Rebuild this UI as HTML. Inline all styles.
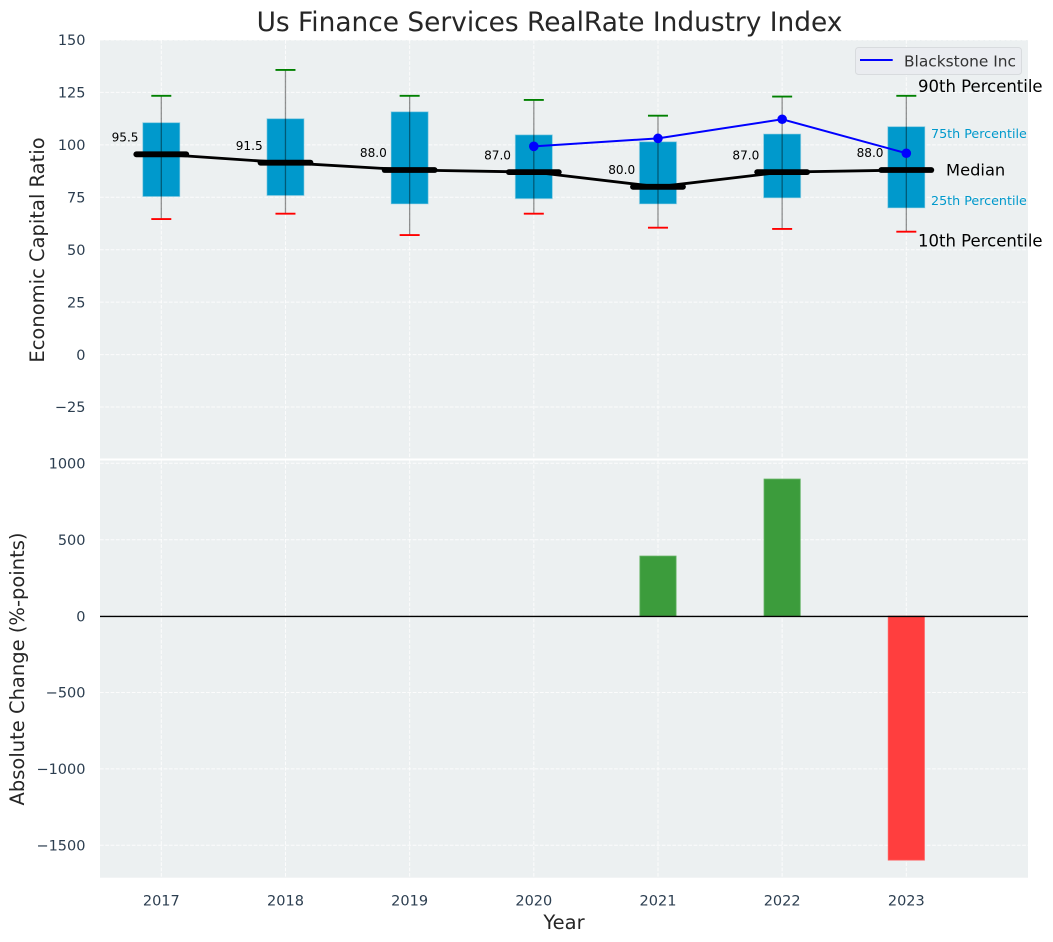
<!DOCTYPE html>
<html lang="en">
<head>
<meta charset="utf-8">
<title>Us Finance Services RealRate Industry Index</title>
<style>
html,body{margin:0;padding:0;background:#fff;}
svg{display:block;}
text{font-family:"DejaVu Sans","Liberation Sans",sans-serif;}
</style>
</head>
<body>
<svg id="chart" xmlns="http://www.w3.org/2000/svg" width="1053" height="942" viewBox="0 0 1053 942"></svg>
<script>
const years = [2017, 2018, 2019, 2020, 2021, 2022, 2023];
const p90 = [123.4, 135.7, 123.4, 121.4, 113.9, 123, 123.4];
const p75 = [110.6, 112.5, 115.8, 104.8, 101.5, 105.2, 108.7];
const medians = [95.5, 91.5, 88, 87, 80, 87, 88];
const p25 = [75.3, 75.8, 71.8, 74.3, 71.8, 74.7, 69.9];
const p10 = [64.6, 67.2, 57, 67.2, 60.5, 59.9, 58.6];
const companyYears = [2020, 2021, 2022, 2023];
const companyValues = [99.3, 103.1, 112.2, 96];
const changeYears = [2021, 2022, 2023];
const changeValues = [393, 897, -1597];
const topTicks = [150, 125, 100, 75, 50, 25, 0, -25];
const bottomTicks = [1000, 500, 0, -500, -1000, -1500];

const NS = 'http://www.w3.org/2000/svg';
const svg = document.getElementById('chart');
function mk(tag, attrs, parent) {
  const el = document.createElementNS(NS, tag);
  for (const k in attrs) el.setAttribute(k, attrs[k]);
  (parent || svg).appendChild(el);
  return el;
}
function txt(str, attrs, parent) {
  const el = mk('text', attrs, parent);
  el.textContent = str;
  return el;
}
const L = 100, R = 1028, T = 40, MID = 459.5, B = 877.7;
const X = y => 161.3 + (y - 2017) * 124.17;
const Y1 = v => 354.6 - v * 2.0975;
const Y2 = v => 616.1 - v * 0.1528;
const fmtTick = v => String(v).replace('-', '\u2212');

/* panels */
const topPanel = mk('rect', {x: L, y: T, width: R - L, height: MID - T, fill: '#ecf0f1'});


const bottomPanel = mk('rect', {x: L, y: MID, width: R - L, height: B - MID, fill: '#ecf0f1'});



/* grid */
const gridStyle = {stroke: '#ffffff', 'stroke-width': 1, 'stroke-dasharray': '3.7 1.6', opacity: 0.85};
years.forEach(yr => {
  const a = mk('line', Object.assign({x1: X(yr), x2: X(yr), y1: T, y2: MID}, gridStyle));
  
  
  const b = mk('line', Object.assign({x1: X(yr), x2: X(yr), y1: MID, y2: B}, gridStyle));
  
  
});
topTicks.forEach(v => {
  const g = mk('line', Object.assign({x1: L, x2: R, y1: Y1(v), y2: Y1(v)}, gridStyle));
  
  
  const t = txt(fmtTick(v), {x: 85.5, y: Y1(v) + 5.2, 'text-anchor': 'end', 'font-size': 14.5, fill: '#2c3e50'});
  
  
});
bottomTicks.forEach(v => {
  const g = mk('line', Object.assign({x1: L, x2: R, y1: Y2(v), y2: Y2(v)}, gridStyle));
  
  
  const t = txt(fmtTick(v), {x: 85.5, y: Y2(v) + 5.2, 'text-anchor': 'end', 'font-size': 14.5, fill: '#2c3e50'});
  
  
});
const separator = mk('line', {x1: L, x2: R, y1: MID, y2: MID, stroke: '#ffffff', 'stroke-width': 2});



/* boxes */
const halfBar = 0.15 * 124.17;
years.forEach((yr, i) => {
  const x = X(yr);
  const box = mk('rect', {x: x - halfBar, y: Y1(p75[i]), width: halfBar * 2, height: Y1(p25[i]) - Y1(p75[i]), fill: '#0099cc', stroke: '#add8e6', 'stroke-opacity': 0.6, 'stroke-width': 1});
  
  
  const whisker = mk('line', {x1: x, x2: x, y1: Y1(p90[i]), y2: Y1(p10[i]), stroke: '#000000', 'stroke-opacity': 0.42, 'stroke-width': 1.3});
  
  
  const capHigh = mk('line', {x1: x - 10, x2: x + 10, y1: Y1(p90[i]), y2: Y1(p90[i]), stroke: '#008000', 'stroke-width': 1.9});
  
  
  const capLow = mk('line', {x1: x - 10, x2: x + 10, y1: Y1(p10[i]), y2: Y1(p10[i]), stroke: '#ff0000', 'stroke-width': 1.9});
  
  
});

/* median line */
const medianLine = mk('polyline', {points: years.map((yr, i) => X(yr) + ',' + Y1(medians[i])).join(' '), fill: 'none', stroke: '#000000', 'stroke-width': 2.8});


years.forEach((yr, i) => {
  const x = X(yr), y = Y1(medians[i]);
  const m = mk('line', {x1: x - 25, x2: x + 25, y1: y, y2: y, stroke: '#000000', 'stroke-width': 5.8, 'stroke-linecap': 'round'});
  
  
  const t = txt(medians[i].toFixed(1), {x: x - 22.8, y: y - 12.8, 'text-anchor': 'end', 'font-size': 12.1, fill: '#000000'});
  
  
});

/* company series */
const companyLine = mk('polyline', {points: companyYears.map((yr, i) => X(yr) + ',' + Y1(companyValues[i])).join(' '), fill: 'none', stroke: '#0000ff', 'stroke-width': 2});


companyYears.forEach((yr, i) => {
  const c = mk('circle', {cx: X(yr), cy: Y1(companyValues[i]), r: 4.8, fill: '#0000ff'});
  
  
});

/* percentile annotations on final year */
const last = years.length - 1;
const lastX = X(years[last]);
const a90 = txt('90th Percentile', {x: lastX + 11.7, y: Y1(p90[last]) - 4, 'font-size': 16.5, fill: '#000000'});


const a75 = txt('75th Percentile', {x: lastX + 24.7, y: Y1(p75[last]) + 11.5, 'font-size': 12.7, fill: '#0099cc'});


const aMed = txt('Median', {x: lastX + 39.7, y: Y1(medians[last]) + 5.5, 'font-size': 16.3, fill: '#000000'});


const a25 = txt('25th Percentile', {x: lastX + 24.7, y: Y1(p25[last]) - 3, 'font-size': 12.7, fill: '#0099cc'});


const a10 = txt('10th Percentile', {x: lastX + 11.7, y: Y1(p10[last]) + 15, 'font-size': 16.5, fill: '#000000'});



/* change bars */
changeYears.forEach((yr, i) => {
  const v = changeValues[i];
  const top = Math.min(Y2(v), Y2(0));
  const bar = mk('rect', {x: X(yr) - halfBar + 0.5, y: top, width: halfBar * 2 - 1, height: Math.abs(Y2(v) - Y2(0)), fill: v >= 0 ? '#3c9c3c' : '#ff3e3e', stroke: v >= 0 ? '#62b262' : '#ff6060', 'stroke-width': 0.8});
  
  
});
const zeroLine = mk('line', {x1: L, x2: R, y1: Y2(0) + 0.3, y2: Y2(0) + 0.3, stroke: '#000000', 'stroke-width': 1.4});



/* x ticks */
years.forEach(yr => {
  const t = txt(String(yr), {x: X(yr), y: 905.3, 'text-anchor': 'middle', 'font-size': 14.5, fill: '#2c3e50'});
  
  
});

/* titles */
const title = txt('Us Finance Services RealRate Industry Index', {x: 549.5, y: 31, 'text-anchor': 'middle', 'font-size': 26.4, fill: '#262626'});


const xTitle = txt('Year', {x: 564, y: 929, 'text-anchor': 'middle', 'font-size': 19.5, fill: '#262626'});


const yTop = txt('Economic Capital Ratio', {x: 0, y: 0, transform: 'translate(44,250) rotate(-90)', 'text-anchor': 'middle', 'font-size': 19.5, fill: '#262626'});


const yBottom = txt('Absolute Change (%-points)', {x: 0, y: 0, transform: 'translate(24,669) rotate(-90)', 'text-anchor': 'middle', 'font-size': 19.5, fill: '#262626'});



/* legend */
const legendBox = mk('rect', {x: 855.5, y: 47.5, width: 166, height: 27, rx: 3, fill: '#eaecf0', stroke: '#d8dbde', 'stroke-width': 1});


const legendLine = mk('line', {x1: 860, x2: 892.7, y1: 60, y2: 60, stroke: '#0000ff', 'stroke-width': 2});


const legendText = txt('Blackstone Inc', {x: 904, y: 66.3, 'font-size': 15.4, fill: '#333333'});


</script>
</body>
</html>
